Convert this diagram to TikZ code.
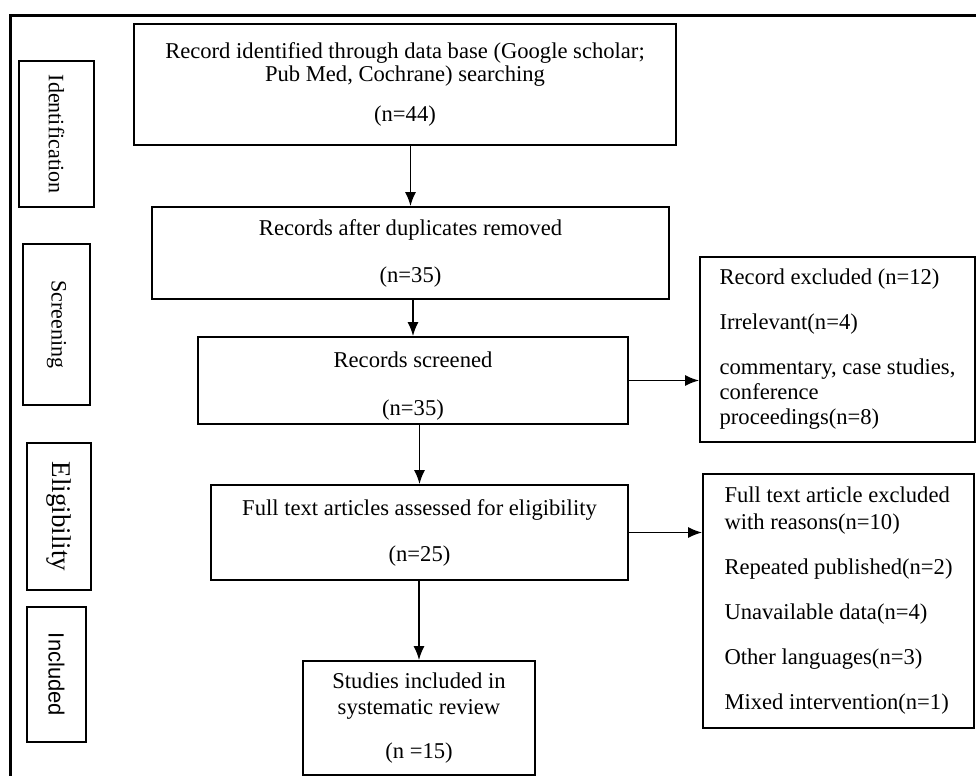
\documentclass[tikz,border=0pt]{standalone}
\usepackage{fontspec}
\setmainfont{Liberation Serif}
\newfontfamily\incfont{Liberation Sans}
\usetikzlibrary{arrows.meta}
\usetikzlibrary{positioning}

\tikzset{
  flowbox/.style={draw, line width=1pt, inner sep=0pt, align=center,
                  font=\fontsize{11.3}{13}\selectfont},
  reasonbox/.style={draw, line width=1pt, inner sep=0pt, align=left,
                    font=\fontsize{11.3}{12.5}\selectfont},
  stagebox/.style={draw, line width=1pt, inner sep=0pt, rotate=-90,
                   font=\fontsize{11}{12}\selectfont},
}

\begin{document}
\begin{tikzpicture}[x=0.5pt, y=-0.5pt]
\useasboundingbox (0,0) rectangle (976,776);
\draw[line width=1.5pt] (10,15) rectangle (990,790);

% stages on the left
\begin{scope}[every node/.style={stagebox}]
    \node[minimum width=73pt, minimum height=37.5pt] (sId) at (56.5,134) {Identification};
    \node[minimum width=80.5pt, minimum height=33.5pt] (sScr) at (56.5,324.5) {Screening};
    \node[minimum width=73.5pt, minimum height=32pt, font=\fontsize{13.5}{14}\selectfont] (sElig) at (59,516.5) {Eligibility};
    \node[minimum width=67.5pt, minimum height=29.5pt, font=\incfont\fontsize{11}{12}\selectfont] (sInc) at (56.5,674.5) {Included};
\end{scope}

% main flow
\begin{scope}[every node/.style={flowbox}]
    \node[minimum width=271pt, minimum height=60.5pt] (id) at (405,84.5)
        {Record identified through data base (Google scholar;\\[-1.5pt]
         Pub Med, Cochrane) searching\\[7pt] (n=44)};
    \node[minimum width=258.5pt, minimum height=46pt] (dup) at (410.5,253)
        {Records after duplicates removed\\[10.5pt] (n=35)};
    \node[minimum width=215pt, minimum height=43.5pt] (scr) at (413,380.5)
        {\rule{0pt}{13.5pt}Records screened\\[11pt] (n=35)};
    \node[minimum width=208.5pt, minimum height=47.5pt] (elig) at (419.5,532.5)
        {Full text articles assessed for eligibility\\[10pt] (n=25)};
    \node[minimum width=116pt, minimum height=57pt] (incl) at (419,718)
        {Studies included in\\ systematic review\\[9pt] (n =15)};
\end{scope}

% exclusions
\begin{scope}[every node/.style={reasonbox}]
    \node[minimum width=137.5pt, minimum height=92.5pt] (excl1) at (837.5,349.5)
        {Record excluded (n=12)\\[10pt] Irrelevant(n=4)\\[10pt]
         commentary, case studies,\\ conference\\ proceedings(n=8)};
    \node[minimum width=135.5pt, minimum height=127pt] (excl2) at (838.5,601)
        {Full text article excluded\\[1pt] with reasons(n=10)\\[10pt]
         Repeated published(n=2)\\[10pt] Unavailable data(n=4)\\[10pt]
         Other languages(n=3)\\[10pt] Mixed intervention(n=1)};
\end{scope}

\begin{scope}[line width=0.65pt]
    \foreach \u/\v in {id/dup, dup/scr, scr/elig, elig/incl}
        \draw [-{Latex[length=7pt,width=5.5pt]}] (\v.north |- \u.south) -- (\v.north);
    \foreach \u/\v in {scr/excl1, elig/excl2}
        \draw [-{Latex[length=7pt,width=5.5pt]}] (\u.east) -- (\v.west |- \u.east);
\end{scope}
\end{tikzpicture}
\end{document}
